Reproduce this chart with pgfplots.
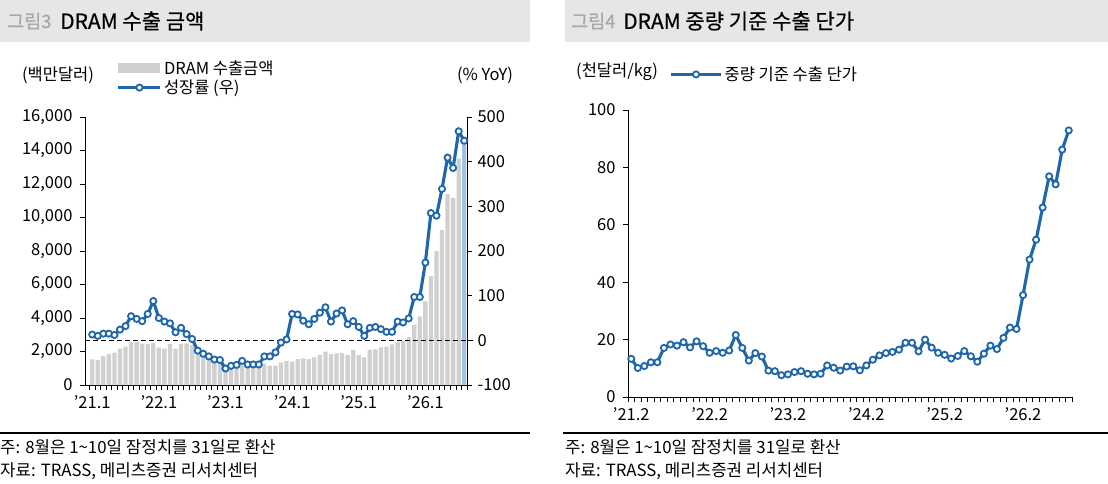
\documentclass[border=0pt]{standalone}
\usepackage{pgfplots}
\pgfplotsset{compat=1.18}
\usepackage{pgfplotstable}
\usepackage{fontspec}
\setmainfont{Noto Sans CJK KR}
\newfontfamily\titlefont[FakeBold=0.6]{Noto Sans CJK KR}
\definecolor{barg}{HTML}{D0D0D0}
\definecolor{barblue}{HTML}{9DC3E6}
\definecolor{lineblue}{HTML}{1F66AA}
\definecolor{titlebg}{HTML}{E6E6E6}
\definecolor{titlegray}{HTML}{A8A8A8}
\newcommand\fs[1]{\fontsize{#1}{#1}\selectfont}

\pgfplotstableread{
i amt yoy
0 1530 13
1 1490 10
2 1730 15
3 1850 15
4 1930 12
5 2170 24
6 2290 32
7 2580 54
8 2580 48
9 2450 43
10 2450 59
11 2500 88
12 2230 50
13 2170 42
14 2450 38
15 2170 18
16 2450 28
17 2480 14
18 2400 3
19 1990 -23
20 1800 -30
21 1570 -36
22 1400 -43
23 1400 -44
24 850 -63
25 930 -57
26 1100 -55
27 1170 -46
28 1130 -54
29 1140 -54
30 1090 -54
31 1270 -36
32 1150 -36
33 1150 -27
34 1330 -5
35 1430 2
36 1390 59
37 1550 58
38 1590 44
39 1550 36
40 1650 48
41 1790 62
42 1990 74
43 1850 42
44 1890 60
45 1900 67
46 1790 36
47 2090 43
48 1790 30
49 1650 10
50 2090 28
51 2130 30
52 2250 25
53 2290 19
54 2430 19
55 2580 42
56 2620 40
57 2860 49
58 3600 97
59 4100 97
60 5000 174
61 6500 285
62 7990 279
63 9240 339
64 11390 409
65 11170 386
66 13520 468
67 14400 447
}\leftdata

\pgfplotstableread{
i price
0 13.3
1 10.1
2 10.8
3 12.1
4 12.1
5 17.1
6 18.3
7 17.9
8 19.1
9 17.3
10 19.4
11 17.7
12 15.4
13 16.0
14 15.4
15 16.2
16 21.6
17 17.1
18 12.7
19 15.3
20 14.1
21 9.2
22 9.0
23 7.6
24 7.9
25 8.7
26 9.0
27 8.1
28 7.9
29 8.1
30 11.0
31 10.2
32 9.2
33 10.6
34 10.7
35 9.3
36 11.0
37 13.0
38 14.5
39 15.3
40 15.7
41 16.5
42 18.9
43 18.9
44 15.9
45 20.0
46 17.2
47 15.4
48 14.7
49 13.4
50 14.3
51 16.0
52 14.2
53 12.3
54 15.1
55 17.9
56 16.7
57 20.6
58 24.2
59 23.7
60 35.5
61 47.9
62 54.8
63 66.0
64 76.9
65 74.1
66 86.2
67 92.9
}\rightdata

\tikzset{
  linemark/.style={lineblue, line width=3.1pt, mark=*, mark size=3.1pt,
    mark options={fill=white, draw=lineblue, line width=1.8pt, solid}},
}
\pgfplotsset{
  common/.style={
    scale only axis,
    /pgf/number format/assume math mode=true,
    /pgf/number format/1000 sep={,},
    tick label style={font=\fs{16.5}, text=black},
    tick align=outside,
    major tick length=5pt, minor tick length=5pt,
    tick style={black, line width=0.8pt},
    axis line style={black, line width=0.8pt},
    major x tick style={draw=none},
    minor x tick style={black, line width=0.8pt},
    xticklabel style={yshift=-2pt},
  },
  barlegend/.style={legend image code/.code={\fill[barg] (0pt,-5pt) rectangle (42pt,5pt);}},
  linelegendA/.style={legend image code/.code={\draw[linemark, mark repeat=2, mark phase=2] plot coordinates {(0pt,0pt) (21pt,0pt) (42pt,0pt)};}},
  linelegendB/.style={legend image code/.code={\draw[linemark, mark repeat=2, mark phase=2] plot coordinates {(0pt,0pt) (25pt,0pt) (50pt,0pt)};}},
}

\begin{document}
\begin{tikzpicture}[x=1pt,y=1pt]
\path[use as bounding box] (0,0) rectangle (1108,483);

% ---------- title bars ----------
\fill[titlebg] (0,441) rectangle (530,483);
\node[anchor=west, inner sep=0pt, text=titlegray, font=\fs{18.5}\titlefont] at (7,462) {그림3};
\node[anchor=west, inner sep=0pt, font=\fs{21}\titlefont] at (60,462) {DRAM 수출 금액};
\fill[titlebg] (565,441) rectangle (1108,483);
\node[anchor=west, inner sep=0pt, text=titlegray, font=\fs{18.5}\titlefont] at (571,462) {그림4};
\node[anchor=west, inner sep=0pt, font=\fs{21}\titlefont] at (623,462) {DRAM 중량 기준 수출 단가};

% ---------- left chart ----------
\node[font=\fs{16.5}] at (58,408) {(백만달러)};
\node[font=\fs{16.5}] at (485,408) {(\% YoY)};

\begin{axis}[common,
  at={(85pt,98pt)}, anchor=south west, width=382pt, height=268pt,
  xmin=-1.3, xmax=67.5, ymin=0, ymax=16000,
  axis x line*=bottom, axis y line*=left,
  xtick={0,12,24,36,48,60},
  xticklabels={'21.1,'22.1,'23.1,'24.1,'25.1,'26.1},
  minor xtick={-0.5,0.5,...,67.5},
  ytick={0,2000,...,16000},
  yticklabel style={xshift=-4pt},
  scaled y ticks=false,
  legend style={at={(0.083,1.218)}, anchor=north west, draw=none, fill=none,
    font=\fs{16.5}, legend cell align=left, row sep=0pt, inner sep=0pt},
]
\addplot[ybar, bar width=4.3pt, bar shift=0pt, fill=barg, draw=none, barlegend]
  table[x=i, y=amt] {\leftdata};
\addlegendentry{DRAM 수출금액}
\addplot[ybar, bar width=4.3pt, bar shift=0pt, fill=barblue, draw=none, forget plot]
  coordinates {(67,14400)};
\addlegendimage{linemark, linelegendA}
\addlegendentry{성장률 (우)}
\end{axis}

\begin{axis}[common,
  at={(85pt,98pt)}, anchor=south west, width=382pt, height=268pt,
  xmin=-1.3, xmax=67.5, ymin=-100, ymax=500,
  axis x line=none, axis y line*=right,
  ytick={-100,0,...,500},
  yticklabel style={xshift=2pt},
  clip=false,
]
\draw[black, line width=0.9pt, dash pattern=on 5pt off 3pt] (axis cs:-1.3,0) -- (axis cs:68.5,0);
\addplot[linemark] table[x=i, y=yoy] {\leftdata};
\end{axis}

% ---------- right chart ----------
\node[font=\fs{16.5}] at (617,411) {(천달러/kg)};

\begin{axis}[common,
  at={(628pt,86pt)}, anchor=south west, width=444pt, height=287pt,
  xmin=-0.5, xmax=67.5, ymin=0, ymax=100,
  axis x line*=bottom, axis y line*=left,
  xtick={0,12,24,36,48,60},
  xticklabels={'21.2,'22.2,'23.2,'24.2,'25.2,'26.2},
  minor xtick={-0.5,0.5,...,67.5},
  ytick={0,20,...,100},
  yticklabel style={xshift=-4pt},
  clip=false,
  legend style={at={(0.093,1.158)}, anchor=north west, draw=none, fill=none,
    font=\fs{16.5}, legend cell align=left, inner sep=0pt},
]
\addplot[linemark, linelegendB] table[x=i, y=price] {\rightdata};
\addlegendentry{중량 기준 수출 단가}
\end{axis}

% ---------- footers ----------
\draw[black, line width=2pt] (0,50) -- (530,50);
\draw[black, line width=2pt] (563,50) -- (1108,50);
\node[anchor=west, inner sep=0pt, font=\fs{16.8}] at (0,36) {주: 8월은 1\textasciitilde10일 잠정치를 31일로 환산};
\node[anchor=west, inner sep=0pt, font=\fs{16.8}] at (0,12) {자료: TRASS, 메리츠증권 리서치센터};
\node[anchor=west, inner sep=0pt, font=\fs{16.8}] at (565,36) {주: 8월은 1\textasciitilde10일 잠정치를 31일로 환산};
\node[anchor=west, inner sep=0pt, font=\fs{16.8}] at (565,12) {자료: TRASS, 메리츠증권 리서치센터};
\end{tikzpicture}
\end{document}
